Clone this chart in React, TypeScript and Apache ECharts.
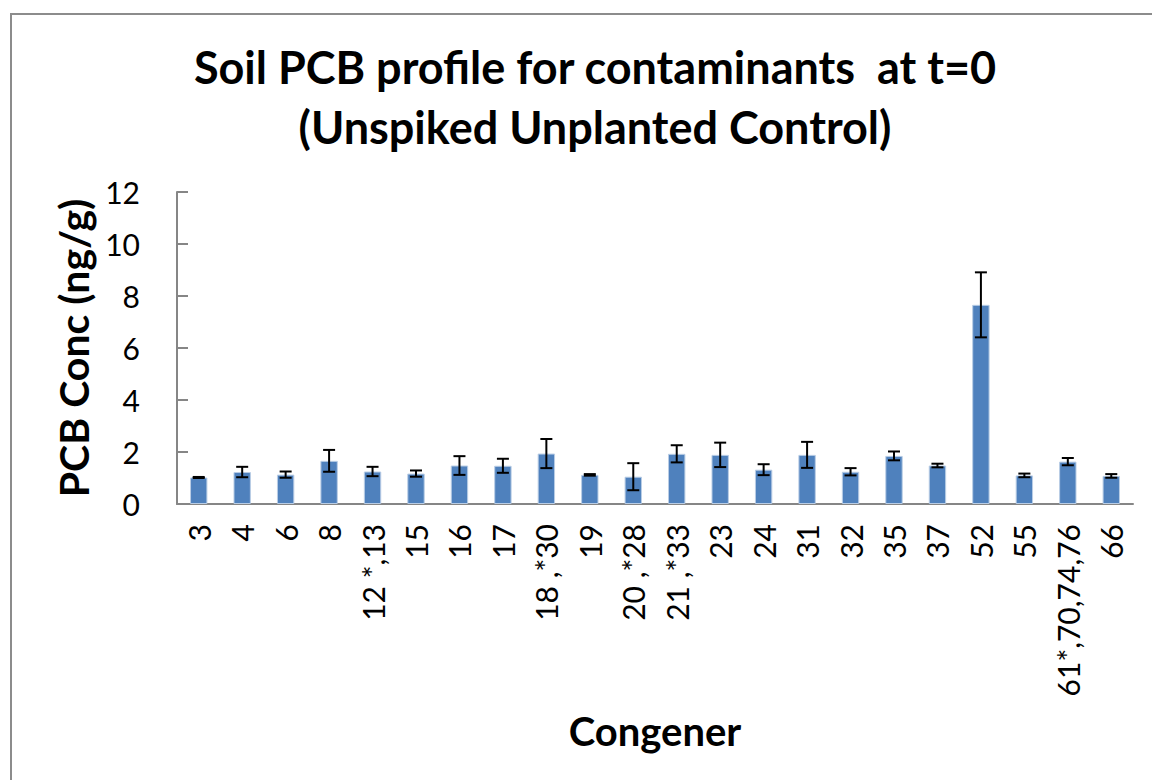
import React, { useEffect, useRef } from "react";
import * as echarts from "echarts";

const categories = ["3", "4", "6", "8", "12 *,13", "15", "16", "17", "18 ,*30", "19", "20 ,*28", "21 ,*33", "23", "24", "31", "32", "35", "37", "52", "55", "61*,70,74,76", "66"];
const means = [1.02, 1.23, 1.13, 1.66, 1.25, 1.17, 1.48, 1.47, 1.94, 1.12, 1.05, 1.93, 1.89, 1.32, 1.89, 1.24, 1.85, 1.48, 7.66, 1.10, 1.63, 1.08];
const errors = [0.02, 0.2, 0.12, 0.42, 0.18, 0.12, 0.36, 0.27, 0.56, 0.03, 0.52, 0.33, 0.47, 0.21, 0.5, 0.14, 0.17, 0.07, 1.25, 0.07, 0.14, 0.07];
const yTicks = [0, 2, 4, 6, 8, 10, 12];

const FONT = "Lato";

export default function App() {
  const ref = useRef<HTMLDivElement>(null);
  useEffect(() => {
    if (!ref.current) return;
    const chart = echarts.init(ref.current, null, { renderer: "svg" });
    const errData = categories.map((_, i) => [i, means[i] - errors[i], means[i] + errors[i]]);
    chart.setOption({
      animation: false,
      backgroundColor: "#ffffff",
      title: {
        text: "Soil PCB profile for contaminants  at t=0\n(Unspiked Unplanted Control)",
        left: 590,
        top: 32,
        textAlign: "center",
        textStyle: { fontFamily: FONT, fontWeight: "bold", fontSize: 45, lineHeight: 60, color: "#000" },
      },
      graphic: [
        {
          type: "rect",
          shape: { x: 11, y: 14, width: 1200, height: 800 },
          style: { fill: "none", stroke: "#8c8c8c", lineWidth: 2 },
          silent: true,
        },
      ],
      grid: { left: 177, right: 19, top: 192, bottom: 276, containLabel: false },
      xAxis: {
        type: "category",
        data: categories,
        name: "Congener",
        nameLocation: "middle",
        nameGap: 207,
        nameTextStyle: { fontFamily: FONT, fontWeight: "bold", fontSize: 40, color: "#000" },
        axisLine: { lineStyle: { color: "#868686", width: 2 } },
        axisTick: { show: false },
        axisLabel: { interval: 0, rotate: 90, margin: 20, fontFamily: FONT, fontSize: 30, color: "#000" },
      },
      yAxis: {
        type: "value",
        min: 0,
        max: yTicks[yTicks.length - 1],
        interval: 2,
        name: "PCB Conc (ng/g)",
        nameLocation: "middle",
        nameGap: 77,
        nameTextStyle: { fontFamily: FONT, fontWeight: "bold", fontSize: 41, color: "#000" },
        axisLine: { show: true, lineStyle: { color: "#868686", width: 2 } },
        axisTick: { show: true, inside: true, length: 11, lineStyle: { color: "#868686", width: 2 } },
        splitLine: { show: false },
        axisLabel: { margin: 37, fontFamily: FONT, fontSize: 30, color: "#000" },
      },
      series: [
        {
          type: "bar",
          data: means,
          barWidth: "40%",
          itemStyle: { color: "#4F81BD", borderColor: "#B9CDE5", borderWidth: 1 },
        },
        {
          type: "custom",
          data: errData,
          z: 10,
          renderItem: (params: any, api: any) => {
            const x = api.value(0);
            const lo = api.coord([x, api.value(1)]);
            const hi = api.coord([x, api.value(2)]);
            const cap = 6;
            const style = { stroke: "#000", lineWidth: 2 };
            return {
              type: "group",
              children: [
                { type: "line", shape: { x1: hi[0], y1: hi[1], x2: lo[0], y2: lo[1] }, style },
                { type: "line", shape: { x1: hi[0] - cap, y1: hi[1], x2: hi[0] + cap, y2: hi[1] }, style },
                { type: "line", shape: { x1: lo[0] - cap, y1: lo[1], x2: lo[0] + cap, y2: lo[1] }, style },
              ],
            };
          },
        },
      ],
    });
    return () => chart.dispose();
  }, []);
  return <div ref={ref} style={{ position: "fixed", left: 0, top: 0, width: 1152, height: 780 }} />;
}
